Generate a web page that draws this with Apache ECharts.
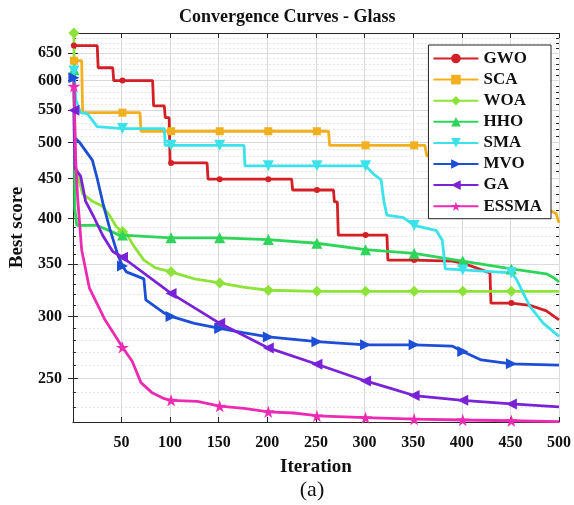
<!DOCTYPE html>
<html>
<head>
<meta charset="utf-8">
<script src="https://cdn.jsdelivr.net/npm/echarts@6/dist/echarts.min.js"></script>
<style>
  html, body { margin: 0; padding: 0; background: #ffffff; }
  #chart { width: 574px; height: 505px; }
</style>
</head>
<body>
<div id="chart"></div>
<script>
// Best score per iteration for each optimiser, as [iteration, score] breakpoints
const gwo = [[1,665],[25,665],[26,623],[41,623],[42,600],[51,600],[82,600],[83,557],[94,557],[95,538],[99,538],[100,471],[101,471],[138,471],[139,449],[151,449],[201,449],[225,449],[226,435],[251,435],[268,435],[269,420],[272,420],[273,381],[301,381],[323,381],[324,354],[351,354],[390,353],[401,351],[429,341],[430,312],[451,312],[470,310],[487,305],[500,297]];
const sca = [[1,636],[9,636],[10,546],[51,546],[69,546],[70,517],[101,517],[151,517],[201,517],[251,517],[263,517],[264,496],[301,496],[351,496],[362,496],[364,481],[401,481],[420,470],[451,440],[470,420],[490,410],[497,406],[500,395]];
const woa = [[1,690],[2,470],[10,430],[20,421],[30,415],[37,405],[45,390],[51,385],[55,383],[62,370],[73,354],[85,346],[101,342],[125,335],[151,331],[175,327],[201,324],[251,323],[301,323],[351,323],[401,323],[451,323],[500,323]];
const hho = [[1,620],[2,412],[4,392],[25,392],[48,381],[51,381],[101,378],[151,378],[201,376],[251,372],[301,365],[351,361],[401,353],[451,345],[487,340],[495,336],[500,332]];
const sma = [[1,617],[3,567],[8,546],[15,544],[25,524],[51,521],[94,521],[95,496],[101,496],[151,496],[176,496],[177,467],[201,467],[251,467],[301,467],[302,465],[310,455],[317,448],[320,420],[323,404],[340,401],[351,392],[374,386],[380,375],[383,345],[401,344],[451,341],[456,335],[470,309],[484,294],[500,283]];
const mvo = [[1,605],[2,507],[7,500],[20,475],[25,450],[31,418],[38,388],[46,360],[51,348],[55,342],[73,335],[75,315],[94,303],[101,300],[125,294],[151,289.6],[175,286],[201,282.5],[251,278.6],[301,276],[351,276],[390,275],[401,270.6],[420,264],[451,261],[500,260]];
const ga = [[1,550],[2,464],[8,453],[13,421],[21,403],[31,380],[41,363],[51,357],[101,321],[151,294],[201,273.5],[251,260.7],[301,248.2],[326,243],[351,237.8],[401,234.5],[451,232],[500,230]];
const essma = [[1,590],[3,470],[5,423],[9,365],[17,326],[33,297],[51,274],[61,263],[70,247],[81,240],[94,235.6],[101,234.5],[128,233.8],[151,230.5],[176,229],[201,226.7],[227,225.9],[244,224.6],[251,224],[301,222.8],[351,221.9],[401,221.3],[451,220.8],[500,220.2]];

const algorithmNames = ['GWO','SCA','WOA','HHO','SMA','MVO','GA','ESSMA'];
const seriesValues = [gwo, sca, woa, hho, sma, mvo, ga, essma];

// Iterations that carry a marker on every curve
const markerIters = [1,51,101,151,201,251,301,351,401,451];

// Axis ticks
const yTickValues = [250,300,350,400,450,500,550,600,650];
const yMinorValues = [230,240,260,270,280,290,310,320,330,340,360,370,380,390,410,420,430,440,460,470,480,490,510,520,530,540,560,570,580,590,610,620,630,640,660,670,680];

const STAR = 'path://M50,0 L61,35 L98,35 L68,57 L79,91 L50,70 L21,91 L32,57 L2,35 L39,35 Z';
const styles = {
  GWO:   { color: '#D31F26', symbol: 'circle',   size: 6,  rotate: 0 },
  SCA:   { color: '#F2B01E', symbol: 'rect',     size: 8,  rotate: 0 },
  WOA:   { color: '#8EE33A', symbol: 'diamond',  size: 11, rotate: 0 },
  HHO:   { color: '#2FD55A', symbol: 'triangle', size: 11, rotate: 0 },
  SMA:   { color: '#3CE2EA', symbol: 'triangle', size: 11, rotate: 180 },
  MVO:   { color: '#1C4FD6', symbol: 'triangle', size: 11, rotate: -90 },
  GA:    { color: '#7A23D6', symbol: 'triangle', size: 11, rotate: 90 },
  ESSMA: { color: '#EC2BB3', symbol: STAR,       size: 13, rotate: 0 }
};

const FONT = '"Liberation Serif", "Times New Roman", serif';
const AXIS_COLOR = '#262626';

const series = algorithmNames.map((name, i) => {
  const s = styles[name];
  return {
    type: 'line',
    name: name,
    data: seriesValues[i],
    xAxisIndex: 0,
    yAxisIndex: 0,
    symbol: s.symbol,
    symbolRotate: s.rotate,
    symbolKeepAspect: true,
    symbolSize: v => (markerIters.indexOf(v[0]) >= 0 ? s.size : 0),
    showSymbol: true,
    showAllSymbol: true,
    lineStyle: { width: 2.8, color: s.color },
    itemStyle: { color: s.color },
    emphasis: { disabled: true }
  };
});

const logAxisBase = { type: 'log', logBase: 10, min: 220, max: 690 };

const chart = echarts.init(document.getElementById('chart'), null, { renderer: 'canvas' });
chart.setOption({
  animation: false,
  backgroundColor: '#ffffff',
  title: {
    text: 'Convergence Curves - Glass',
    left: 179,
    top: 8,
    padding: 0,
    textStyle: { fontFamily: FONT, fontWeight: 'bold', fontSize: 18, color: '#111' }
  },
  graphic: [{
    type: 'text',
    x: 312,
    y: 490,
    style: { text: '(a)', align: 'center', verticalAlign: 'middle', font: '22px ' + FONT, fill: '#111' }
  }],
  grid: { left: 68, right: 14, top: 33, bottom: 83, containLabel: false },
  legend: {
    orient: 'vertical',
    right: 23,
    top: 45,
    data: algorithmNames,
    selectedMode: false,
    itemWidth: 45,
    itemHeight: 12,
    itemGap: 4.1,
    padding: [5, 9, 4, 4],
    backgroundColor: '#ffffff',
    borderColor: '#222',
    borderWidth: 1,
    borderRadius: 0,
    textStyle: { fontFamily: FONT, fontWeight: 'bold', fontSize: 17, color: '#111' }
  },
  xAxis: [{
    type: 'value',
    position: 'bottom',
    min: 0,
    max: 500,
    interval: 50,
    name: 'Iteration',
    nameLocation: 'middle',
    nameGap: 36,
    nameTextStyle: { fontFamily: FONT, fontWeight: 'bold', fontSize: 19, color: '#111' },
    axisLine: { show: true, lineStyle: { color: AXIS_COLOR, width: 1 } },
    axisTick: { show: true, inside: true, length: 5, lineStyle: { color: AXIS_COLOR } },
    axisLabel: {
      margin: 13,
      fontFamily: FONT, fontWeight: 'bold', fontSize: 16, color: '#111',
      formatter: v => (v === 0 ? '' : String(v))
    },
    splitLine: { show: true, lineStyle: { color: '#dadada', width: 1 } }
  }, {
    type: 'value',
    position: 'top',
    min: 0,
    max: 500,
    interval: 50,
    axisLine: { show: true, lineStyle: { color: AXIS_COLOR, width: 1 } },
    axisTick: { show: true, inside: true, length: 5, lineStyle: { color: AXIS_COLOR } },
    axisLabel: { show: false },
    splitLine: { show: false }
  }],
  yAxis: [Object.assign({}, logAxisBase, {
    position: 'left',
    name: 'Best score',
    nameLocation: 'middle',
    nameGap: 32,
    nameRotate: 90,
    nameTextStyle: { fontFamily: FONT, fontWeight: 'bold', fontSize: 19, color: '#111' },
    axisLine: { show: true, lineStyle: { color: AXIS_COLOR, width: 1 } },
    axisTick: { show: true, inside: true, length: 5, customValues: yTickValues, lineStyle: { color: AXIS_COLOR } },
    axisLabel: { margin: 11, customValues: yTickValues, fontFamily: FONT, fontWeight: 'bold', fontSize: 16, color: '#111' },
    splitLine: { show: true, lineStyle: { color: '#dadada', width: 1 } }
  }), Object.assign({}, logAxisBase, {
    position: 'right',
    axisLine: { show: true, lineStyle: { color: AXIS_COLOR, width: 1 } },
    axisTick: { show: true, inside: true, length: 5, customValues: yTickValues, lineStyle: { color: AXIS_COLOR } },
    axisLabel: { show: false },
    splitLine: { show: false }
  }), Object.assign({}, logAxisBase, {
    position: 'left',
    axisLine: { show: false },
    axisTick: { show: true, inside: true, length: 3, customValues: yMinorValues, lineStyle: { color: AXIS_COLOR } },
    axisLabel: { show: false },
    splitLine: { show: true, lineStyle: { color: '#e6e6e6', width: 1, type: [2, 2] } }
  }), Object.assign({}, logAxisBase, {
    position: 'right',
    axisLine: { show: false },
    axisTick: { show: true, inside: true, length: 3, customValues: yMinorValues, lineStyle: { color: AXIS_COLOR } },
    axisLabel: { show: false },
    splitLine: { show: false }
  })],
  series: series
});
</script>
</body>
</html>
